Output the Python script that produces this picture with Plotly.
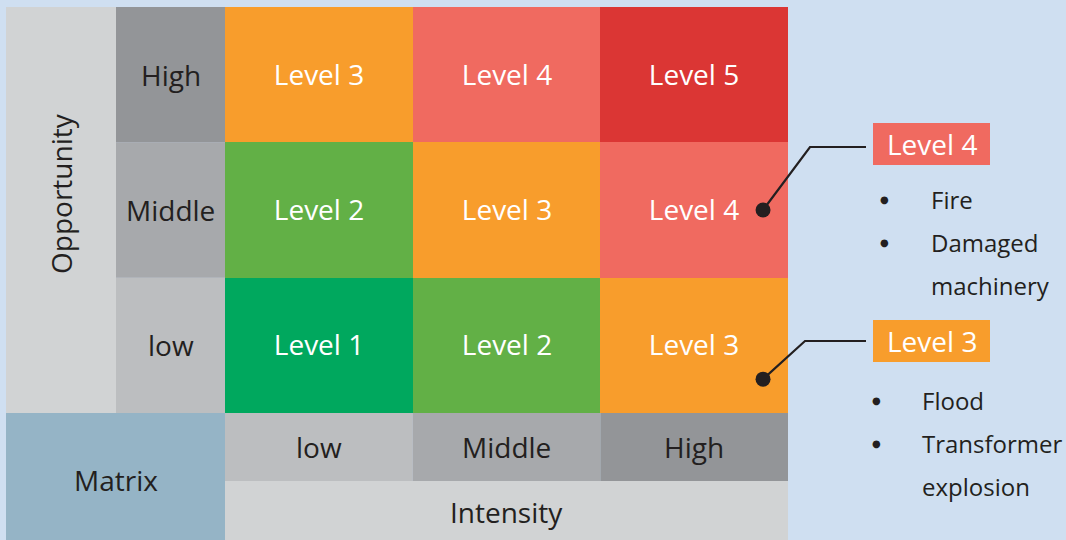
import plotly.graph_objects as go

# ---------------- data ----------------
intensity_labels = ["low", "Middle", "High"]        # columns (x)
opportunity_labels = ["low", "Middle", "High"]      # rows (y, bottom -> top)
risk_levels = [[1, 2, 3],                           # opportunity low
               [2, 3, 4],                           # opportunity Middle
               [3, 4, 5]]                           # opportunity High
callout_levels = [4, 3]
callout_cells = [(2, 1), (2, 0)]                    # (intensity idx, opportunity idx)
callout_items = [["Fire", "Damaged|machinery"], ["Flood", "Transformer|explosion"]]

# ---------------- styles ----------------
level_colors = ["#00a85e", "#62b046", "#f89d2c", "#f06a60", "#db3634"]
label_greys = ["#bcbec0", "#a7a9ac", "#939598"]
panel_grey = "#d1d3d4"
matrix_blue = "#95b4c6"
bg = "#cfdff1"
ink = "#231f20"
FONT = "Open Sans"
W, H = 1066, 540

# pixel -> axis helpers (layout only)
X0, XW = 225, 563 / 3
Y0, YH = 7, 406 / 3
def px(p):
    return -0.5 + (p - X0) / XW
def py(p):
    return 2.5 - (p - Y0) / YH

cs = []
n = len(level_colors)
for i, c in enumerate(level_colors):
    cs.append([i / n, c])
    cs.append([(i + 1) / n, c])

fig = go.Figure()
fig.add_trace(go.Heatmap(
    x=list(range(len(intensity_labels))),
    y=list(range(len(opportunity_labels))),
    z=risk_levels,
    zmin=0.5, zmax=5.5,
    colorscale=cs, showscale=False,
    texttemplate="Level %{z}",
    textfont=dict(family=FONT, size=28, color="white"),
    hoverinfo="skip", xgap=0, ygap=0,
))

shapes = []
ann = []
LS = 28

# Opportunity panel
shapes.append(dict(type="rect", x0=px(6), x1=px(116), y0=-0.5, y1=2.5,
                   fillcolor=panel_grey, line_width=0, layer="below"))
ann.append(dict(x=(px(6) + px(116)) / 2, y=py(194), text="Opportunity", textangle=-90,
                showarrow=False, font=dict(family=FONT, size=LS, color=ink)))
# row labels
for i, lab in enumerate(opportunity_labels):
    shapes.append(dict(type="rect", x0=px(116), x1=-0.5, y0=i - 0.5, y1=i + 0.5,
                       fillcolor=label_greys[i], line_width=0, layer="below"))
    ann.append(dict(x=(px(116) - 0.5) / 2, y=i, text=lab, showarrow=False,
                    font=dict(family=FONT, size=LS, color=ink)))
# column labels
for j, lab in enumerate(intensity_labels):
    shapes.append(dict(type="rect", x0=j - 0.5, x1=j + 0.5, y0=-0.5, y1=py(481),
                       fillcolor=label_greys[j], line_width=0, layer="below"))
    ann.append(dict(x=j, y=(-0.5 + py(481)) / 2, text=lab, showarrow=False,
                    font=dict(family=FONT, size=LS, color=ink)))
# Intensity
shapes.append(dict(type="rect", x0=-0.5, x1=2.5, y0=py(481), y1=py(545),
                   fillcolor=panel_grey, line_width=0, layer="below"))
ann.append(dict(x=1.0, y=py(512), text="Intensity", showarrow=False,
                font=dict(family=FONT, size=LS, color=ink)))
# Matrix
shapes.append(dict(type="rect", x0=px(6), x1=-0.5, y0=-0.5, y1=py(545),
                   fillcolor=matrix_blue, line_width=0, layer="below"))
ann.append(dict(x=(px(6) - 0.5) / 2, y=py(480), text="Matrix", showarrow=False,
                font=dict(family=FONT, size=LS, color=ink)))

# callouts
dot_off = [(0.367, 0.0), (0.367, -0.25)]
elbow = [(810, 147), (805, 341)]
box_top = [123, 320]
bullet_x = [(884, 929), (876, 920)]
first_line = [199, 400]
for k, lvl in enumerate(callout_levels):
    cx, cy = callout_cells[k]
    dx, dy = cx + dot_off[k][0], cy + dot_off[k][1]
    ex, ey = elbow[k]
    fig.add_trace(go.Scatter(x=[dx, px(ex), px(866)], y=[dy, py(ey), py(ey)],
                             mode="lines", line=dict(color=ink, width=2.2),
                             hoverinfo="skip", showlegend=False))
    fig.add_trace(go.Scatter(x=[dx], y=[dy], mode="markers",
                             marker=dict(color=ink, size=15), hoverinfo="skip", showlegend=False))
    t = box_top[k]
    shapes.append(dict(type="rect", x0=px(873), x1=px(990), y0=py(t), y1=py(t + 42),
                       fillcolor=level_colors[lvl - 1], line_width=0))
    ann.append(dict(x=(px(873) + px(990)) / 2, y=py(t + 21), text=f"Level {lvl}",
                    showarrow=False, font=dict(family=FONT, size=LS, color="white")))
    line = 0
    for item in callout_items[k]:
        parts = item.split("|")
        ann.append(dict(x=px(bullet_x[k][0]), y=py(first_line[k] + 43 * line), text="●",
                        showarrow=False, xanchor="center",
                        font=dict(family="DejaVu Sans", size=10, color=ink)))
        for p in parts:
            ann.append(dict(x=px(bullet_x[k][1]), y=py(first_line[k] + 43 * line), text=p,
                            showarrow=False, xanchor="left",
                            font=dict(family=FONT, size=24, color=ink)))
            line += 1

ax = dict(showgrid=False, zeroline=False, showticklabels=False, ticks="",
          showline=False, fixedrange=True)
fig.update_layout(
    width=W, height=H, margin=dict(l=0, r=0, t=0, b=0),
    paper_bgcolor=bg, plot_bgcolor=bg, showlegend=False,
    xaxis=dict(range=[px(0), px(W)], **ax),
    yaxis=dict(range=[py(H), py(0)], **ax),
    shapes=shapes, annotations=ann,
)
fig.write_html("out.html", config={"displayModeBar": False},
               post_script="document.body.style.margin='0';document.body.style.overflow='hidden';")
